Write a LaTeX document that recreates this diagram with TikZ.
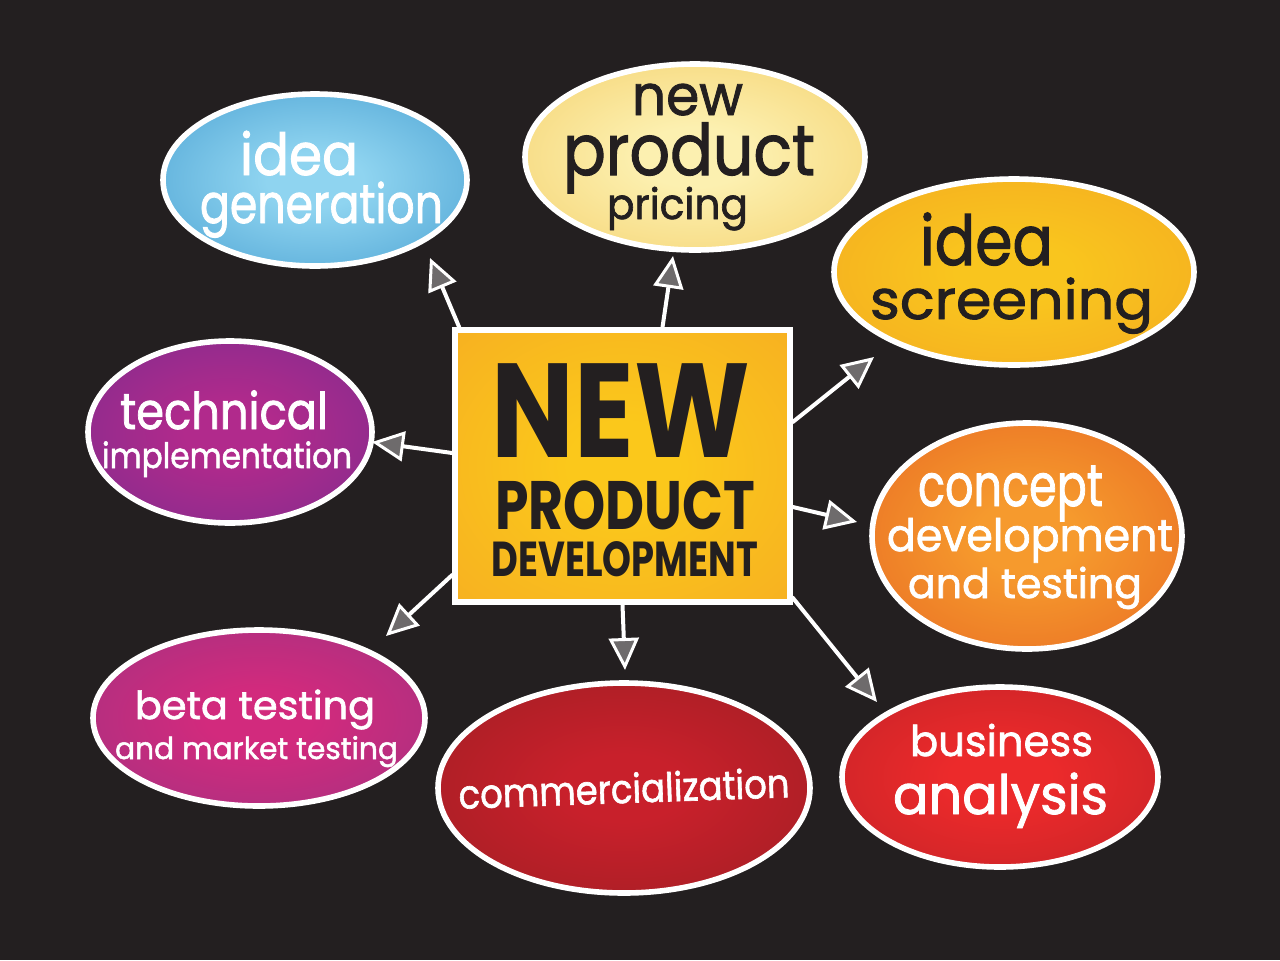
\documentclass[tikz,border=0pt]{standalone}
\usepackage{fontspec}
\setmainfont{Poppins}
\newfontfamily\handfont{Poppins}[FakeBold=1.6]
\usetikzlibrary{arrows.meta,shapes.geometric,calc}
\definecolor{bgc}{HTML}{231F20}
\definecolor{darktxt}{HTML}{231F20}
\definecolor{hatch}{HTML}{6E6B6C}
\definecolor{HubIn}{HTML}{FBC81B}\definecolor{HubOut}{HTML}{F5A524}
\definecolor{GenIn}{HTML}{8FD4F0}\definecolor{GenOut}{HTML}{2E8CC6}
\definecolor{PriIn}{HTML}{FCF0B0}\definecolor{PriOut}{HTML}{F2C452}
\definecolor{ScrIn}{HTML}{F9C51E}\definecolor{ScrOut}{HTML}{F29F22}
\definecolor{ConIn}{HTML}{F69A2D}\definecolor{ConOut}{HTML}{E2561F}
\definecolor{BusIn}{HTML}{EC2A2B}\definecolor{BusOut}{HTML}{B32025}
\definecolor{ComIn}{HTML}{C8202B}\definecolor{ComOut}{HTML}{8E1D20}
\definecolor{BetIn}{HTML}{D22A7D}\definecolor{BetOut}{HTML}{8F3582}
\definecolor{TecIn}{HTML}{B12A8C}\definecolor{TecOut}{HTML}{6A2D8E}
\newdimen\upx \upx=0.5pt
\newdimen\upy \upy=0.46pt
\newcommand\fittext[3]{\resizebox{#1\upx}{#2\upy}{#3}}
\colorlet{gin}{white}\colorlet{gout}{black}
\pgfdeclareradialshading[gin,gout]{glow}{\pgfpoint{0bp}{0bp}}{color(0bp)=(gin); color(8bp)=(gin); color(50bp)=(gout)}
\tikzset{
  bub/.style n args={4}{ellipse, draw=white, line width=2.8pt, minimum width=#1pt, minimum height=#2pt,
    inner sep=0pt, shade, shading=glow, /utils/exec={\colorlet{gin}{#3}\colorlet{gout}{#4}}},
  hubbox/.style={rectangle, draw=white, line width=2.8pt, minimum width=167.5pt, minimum height=136pt,
    inner sep=0pt, shade, shading=glow, /utils/exec={\colorlet{gin}{HubIn}\colorlet{gout}{HubOut}}},
  lbl/.style={anchor=base, inner sep=0pt, text=#1, font=\handfont},
  conn/.style={draw=white, line width=2pt, line cap=round,
    -{Triangle[fill=hatch, length=16pt, width=15pt, line width=1.5pt]}},
}
\begin{document}
\begin{tikzpicture}[x=0.5pt, y=-0.5pt]
\fill[bgc] (0,0) rectangle (1280,960);
% bubbles (minimum sizes in pt = radii in px)
\node[bub={152}{86}{GenIn}{GenOut}] (gen) at (315,180) {};
\node[bub={170}{93}{PriIn}{PriOut}] (pri) at (695,157) {};
\node[bub={180}{93}{ScrIn}{ScrOut}] (scr) at (1014,272) {};
\node[bub={155}{113}{ConIn}{ConOut}] (con) at (1027,536) {};
\node[bub={158}{90}{BusIn}{BusOut}] (bus) at (1000,777) {};
\node[bub={186}{105}{ComIn}{ComOut}] (com) at (624,788) {};
\node[bub={166}{88}{BetIn}{BetOut}] (bet) at (259,718) {};
\node[bub={142}{91}{TecIn}{TecOut}] (tec) at (230,432) {};
\node[hubbox] (box) at (622.5,466) {};
% texts
\node[lbl=white] (gen1) at (299,175) {\fittext{118}{48}{idea}};
\node[lbl=white] (gen2) at (321.5,223) {\fittext{243}{45}{generation}};
\node[lbl=darktxt] (pri1) at (687.5,115) {\fittext{111}{34}{new}};
\node[lbl=darktxt] (pri2) at (689,175) {\fittext{252}{57}{product}};
\node[lbl=darktxt] (pri3) at (677.5,219) {\fittext{141}{35}{pricing}};
\node[lbl=darktxt] (scr1) at (986.5,265) {\fittext{133}{57}{idea}};
\node[lbl=darktxt] (scr2) at (1011.5,319) {\fittext{283}{45}{screening}};
\node[lbl=white] (con1) at (1010.5,506) {\fittext{185}{44}{concept}};
\node[lbl=white] (con2) at (1030,551) {\fittext{286}{36}{development}};
\node[lbl=white] (con3) at (1025,598) {\fittext{234}{34}{and testing}};
\node[lbl=white] (bus1) at (1001.5,756) {\fittext{183}{35}{business}};
\node[lbl=white] (bus2) at (1000.5,814) {\fittext{215}{45}{analysis}};
\node[lbl=white, rotate=2] (com1) at (624.5,803) {\fittext{331}{33}{commercialization}};
\node[lbl=white] (bet1) at (255,719) {\fittext{240}{32}{beta testing}};
\node[lbl=white] (bet2) at (256.5,759) {\fittext{283}{25}{and market testing}};
\node[lbl=white] (tec1) at (224,429) {\fittext{208}{42}{technical}};
\node[lbl=white] (tec2) at (227,468) {\fittext{250}{29}{implementation}};
\node[lbl=darktxt, font=\bfseries] (hub1) at (621,457) {\fittext{258}{102}{NEW}};
\node[lbl=darktxt, font=\bfseries] (hub2) at (625,529) {\fittext{260}{53}{PRODUCT}};
\node[lbl=darktxt, font=\bfseries] (hub3) at (625,576) {\fittext{266}{38}{DEVELOPMENT}};
% arrow tips (free ends)
\coordinate (t1) at (430,258);
\coordinate (t2) at (673,256);
\coordinate (t3) at (874,357);
\coordinate (t4) at (372,442);
\coordinate (t5) at (857,522);
\coordinate (t6) at (386,636);
\coordinate (t7) at (625,670);
\coordinate (t8) at (877,702);
\draw[conn] ($(box.north west)+(7,0)$) -- (t1);
\draw[conn] ($(box.north)+(40,0)$) -- (t2);
\draw[conn] ($(box.east)+(0,-44)$) -- (t3);
\draw[conn] ($(box.west)+(0,-13)$) -- (t4);
\draw[conn] ($(box.east)+(0,41)$) -- (t5);
\draw[conn] ($(box.west)+(0,109)$) -- (t6);
\draw[conn] (box.south) -- (t7);
\draw[conn] ($(box.south east)+(0,-7)$) -- (t8);
\end{tikzpicture}
\end{document}
